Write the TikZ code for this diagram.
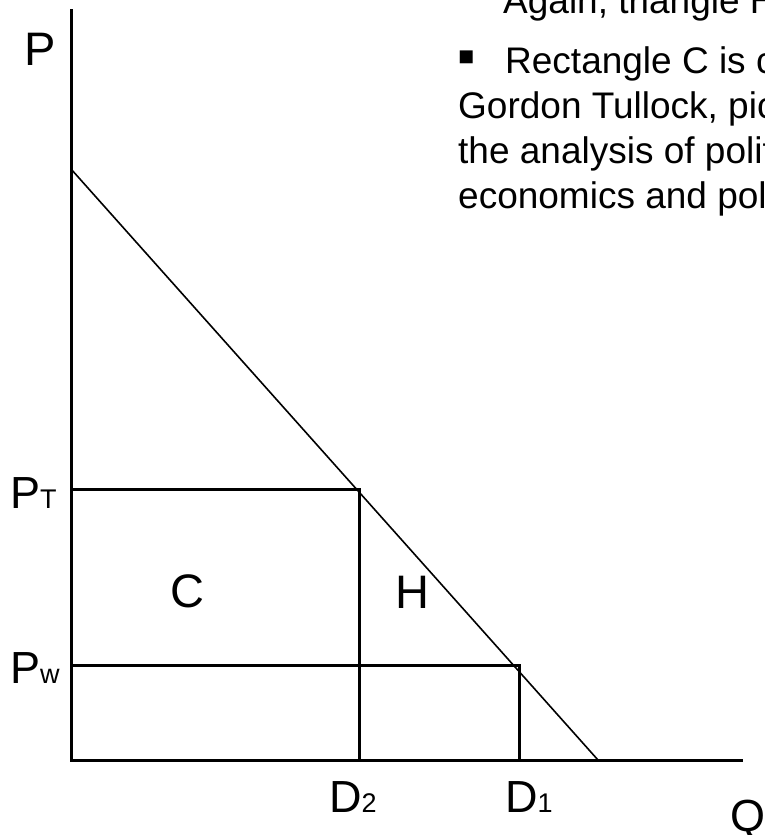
\documentclass[tikz,border=0pt]{standalone}
\usepackage{fontspec}
\setmainfont{Liberation Sans}
\usetikzlibrary{positioning,calc}

\newcommand{\sublbl}[2]{#1{\fontsize{27}{27}\selectfont #2}}

\begin{document}
\begin{tikzpicture}[
  x=1pt, y=-1pt,
  axis/.style={line width=3pt},
  guide/.style={line width=3pt},
  demand/.style={line width=1.6pt},
  lbl/.style={font=\fontsize{45}{45}\selectfont, inner sep=0pt, anchor=base west},
  area/.style={font=\fontsize{47}{47}\selectfont, inner sep=0pt},
  note/.style={font=\fontsize{37}{37}\selectfont, inner sep=0pt, anchor=base west}
]
  \clip (0,0) rectangle (765,835);

  % axes
  \coordinate (ytop) at (71,9);
  \coordinate (orig) at (71,760);
  \coordinate (xend) at (743,760);
  \draw[axis] (ytop) -- (orig) -- (xend);

  % demand curve
  \coordinate (dtop) at (71,169);
  \coordinate (dbot) at (598,760);
  \draw[demand] (dtop) -- (dbot);

  % tariff and world price boxes
  \coordinate (ptax) at (71,489);
  \coordinate (ptcorner) at (359,489);
  \coordinate (dtwo) at (359,760);
  \coordinate (pwax) at (71,665);
  \coordinate (pwcorner) at (519,665);
  \coordinate (done) at (519,760);
  \draw[guide] (ptax) -- (ptcorner) -- (dtwo);
  \draw[guide] (pwax) -- (pwcorner) -- (done);

  % axis labels
  \node[lbl, font=\fontsize{47}{47}\selectfont] (plabel) at (24,65) {P};
  \node[lbl] (qlabel) at (730,831) {Q};
  \node[lbl] (ptlabel) at (10,508) {\sublbl{P}{T}};
  \node[lbl] (pwlabel) at (10,683) {\sublbl{P}{w}};
  \node[lbl] (d2label) at (329,812) {\sublbl{D}{2}};
  \node[lbl] (d1label) at (505,812) {\sublbl{D}{1}};

  % areas
  \node[area] (carea) at (187,591) {C};
  \node[area] (harea) at (412,592) {H};

  % slide text
  \node[note] (again) at (503,13) {Again, triangle H};
  \node[font=\fontsize{52}{52}\selectfont, inner sep=0pt] (bullet) at (467,62) {▪};
  \node[note] (line1) at (505,73) {Rectangle C is c};
  \node[note] (line2) at (458,118) {Gordon Tullock, pic};
  \node[note] (line3) at (458,163) {the analysis of polit};
  \node[note] (line4) at (458,208) {economics and pol};
\end{tikzpicture}
\end{document}
